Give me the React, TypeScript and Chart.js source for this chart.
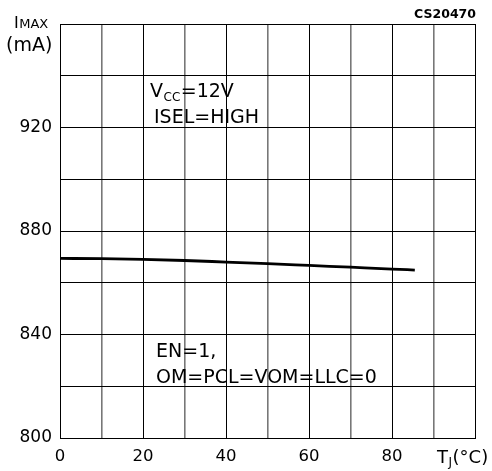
import React, { useEffect, useRef } from "react";
import { Chart, registerables } from "chart.js";

Chart.register(...registerables);

const temperatures = [0, 10, 20, 30, 40, 50, 60, 70, 80, 85.5];
const currentMA = [869.4, 869.3, 869.0, 868.6, 868.0, 867.4, 866.7, 866.0, 865.3, 864.9];
const xTickLabels = [0, 20, 40, 60, 80];
const yTickLabels = [800, 840, 880, 920];

const FONT = "'DejaVu Sans', sans-serif";

const textPlugin = {
  id: "texts",
  afterDraw(chart: any) {
    const ctx = chart.ctx as CanvasRenderingContext2D;
    const ca = chart.chartArea;
    ctx.save();
    ctx.fillStyle = "#000";
    ctx.textBaseline = "alphabetic";
    ctx.textAlign = "left";
    const seq = (x: number, y: number, parts: [string, string, number][]) => {
      let cx = x;
      for (const [t, f, dy] of parts) {
        ctx.font = f;
        ctx.fillText(t, cx, y + dy);
        cx += ctx.measureText(t).width + 0.5;
      }
    };
    // Y title
    seq(14, 28, [["I", `16px ${FONT}`, 0], ["MAX", `13px ${FONT}`, 0]]);
    ctx.font = `19px ${FONT}`;
    ctx.fillText("(mA)", 6, 51);
    // code
    ctx.font = `bold 12.5px ${FONT}`;
    ctx.textAlign = "right";
    ctx.fillText("CS20470", 476, 18);
    ctx.textAlign = "left";
    // X title
    seq(437, 463, [["T", `18px ${FONT}`, 0], ["J", `12px ${FONT}`, 3], ["(°C)", `18px ${FONT}`, 0]]);
    // annotations
    const x0 = ca.left;
    seq(x0 + 90, 97, [["V", `19px ${FONT}`, 0], ["CC", `12px ${FONT}`, 4], ["=12V", `19px ${FONT}`, 0]]);
    ctx.font = `19px ${FONT}`;
    ctx.fillText("ISEL=HIGH", x0 + 94, 123);
    ctx.fillText("EN=1,", x0 + 96, 357);
    ctx.fillText("OM=PCL=VOM=LLC=0", x0 + 96, 383);
    ctx.restore();
  },
};

export default function App() {
  const ref = useRef<HTMLCanvasElement>(null);
  useEffect(() => {
    document.body.style.margin = "0";
    const chart = new Chart(ref.current!, {
      type: "line",
      data: {
        datasets: [
          {
            data: temperatures.map((t, i) => ({ x: t, y: currentMA[i] })),
            borderColor: "#000",
            borderWidth: 2.8,
            pointRadius: 0,
            cubicInterpolationMode: "monotone",
            fill: false,
          },
        ],
      },
      options: {
        responsive: false,
        animation: false,
        layout: { padding: { top: 24, right: 17, left: 0, bottom: 0 } },
        plugins: { legend: { display: false }, tooltip: { enabled: false } },
        scales: {
          x: {
            type: "linear",
            min: 0,
            max: 100,
            afterFit: (s: any) => { s.height = 33; },
            ticks: {
              stepSize: 10,
              autoSkip: false,
              maxRotation: 0,
              padding: 9,
              color: "#000",
              font: { family: FONT, size: 16.5 },
              callback: (v: any) => (xTickLabels.includes(Number(v)) ? String(v) : ""),
            },
            grid: {
              drawTicks: false,
              color: (c: any) => (c.tick && c.tick.value % 20 === 10 ? "#777" : "#000"),
              lineWidth: (c: any) => (c.tick && c.tick.value % 20 === 10 ? 1.6 : 1),
            },
            border: { display: true, color: "#000", width: 1 },
          },
          y: {
            min: 800,
            max: 960,
            afterFit: (s: any) => { s.width = 60; },
            ticks: {
              stepSize: 20,
              autoSkip: false,
              padding: 8,
              color: "#000",
              font: { family: FONT, size: 17 },
              callback: (v: any) => (yTickLabels.includes(Number(v)) ? String(v) : ""),
            },
            grid: { drawTicks: false, color: "#000", lineWidth: 1 },
            border: { display: true, color: "#000", width: 1 },
          },
        },
      },
      plugins: [textPlugin],
    } as any);
    return () => chart.destroy();
  }, []);
  return (
    <div style={{ width: 492, height: 471, background: "#fff" }}>
      <canvas ref={ref} width={492} height={471} />
    </div>
  );
}
